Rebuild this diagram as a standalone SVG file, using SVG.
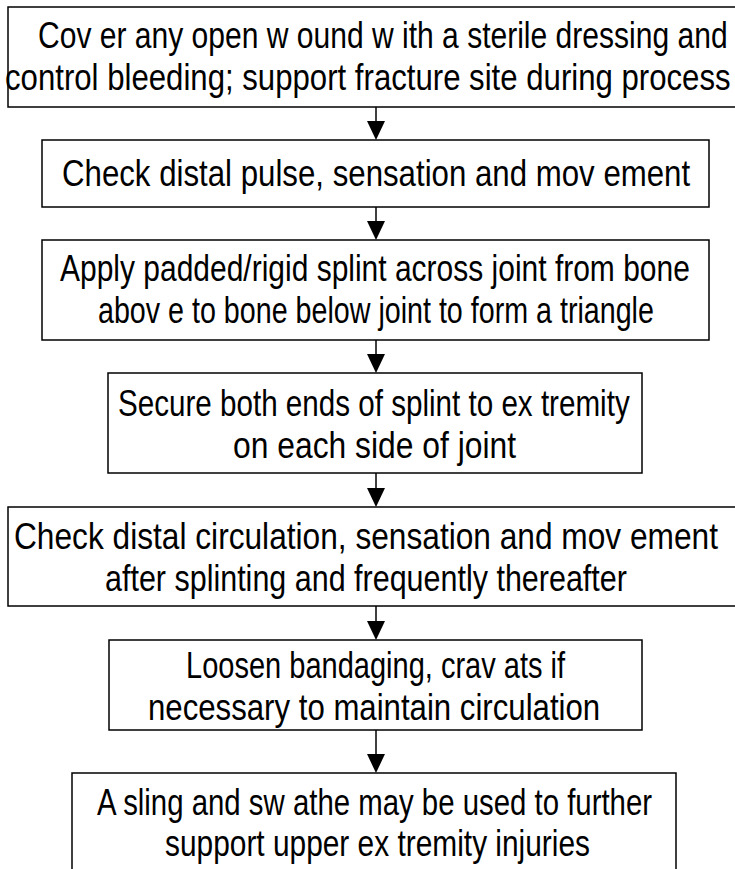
<svg xmlns="http://www.w3.org/2000/svg" width="735" height="869" viewBox="0 0 735 869">
  <defs>
    <style>
      .box { fill: #ffffff; stroke: #000000; stroke-width: 1.5; }
      .lbl { font-family: "Liberation Sans", Arial, sans-serif; font-size: 37px; fill: #000000; }
      .wire { stroke: #000000; stroke-width: 1.5; fill: none; }
      .head { fill: #000000; }
    </style>
  </defs>
  <rect width="735" height="869" fill="#ffffff"/>

  <!-- downward flow arrows between consecutive steps -->
  <g id="connectors">
    <line class="wire" x1="376" y1="107" x2="376" y2="122"/>
    <polygon class="head" points="367,121 385,121 376,140"/>
    <line class="wire" x1="376" y1="207" x2="376" y2="222"/>
    <polygon class="head" points="367,221 385,221 376,240"/>
    <line class="wire" x1="376" y1="340" x2="376" y2="355"/>
    <polygon class="head" points="367,354 385,354 376,373"/>
    <line class="wire" x1="376" y1="473" x2="376" y2="489"/>
    <polygon class="head" points="367,488 385,488 376,507"/>
    <line class="wire" x1="376" y1="606" x2="376" y2="622"/>
    <polygon class="head" points="367,621 385,621 376,640"/>
    <line class="wire" x1="376" y1="730" x2="376" y2="755"/>
    <polygon class="head" points="367,754 385,754 376,773"/>
  </g>

  <!-- labels use a condensed face: horizontal scale, then fitted with textLength -->
  <g id="step1">
    <rect class="box" x="8" y="7" width="740" height="100"/>
    <text class="lbl" transform="translate(38 48) scale(0.8 1)" textLength="862" lengthAdjust="spacingAndGlyphs">Cov er any  open w ound w ith a sterile dressing and</text>
    <text class="lbl" transform="translate(5 90) scale(0.8 1)" textLength="907" lengthAdjust="spacingAndGlyphs">control bleeding;  support fracture site during process</text>
  </g>

  <g id="step2">
    <rect class="box" x="42" y="140" width="667" height="67"/>
    <text class="lbl" transform="translate(62 186) scale(0.85 1)" textLength="739" lengthAdjust="spacingAndGlyphs">Check distal pulse, sensation and mov ement</text>
  </g>

  <g id="step3">
    <rect class="box" x="42" y="240" width="667" height="100"/>
    <text class="lbl" transform="translate(60 281) scale(0.85 1)" textLength="741" lengthAdjust="spacingAndGlyphs">Apply  padded/rigid splint across joint from bone</text>
    <text class="lbl" transform="translate(98 323) scale(0.85 1)" textLength="654" lengthAdjust="spacingAndGlyphs">abov e to bone below  joint to form a triangle</text>
  </g>

  <g id="step4">
    <rect class="box" x="108" y="373" width="534" height="100"/>
    <text class="lbl" transform="translate(118 416) scale(0.85 1)" textLength="602" lengthAdjust="spacingAndGlyphs">Secure both ends of splint to ex tremity</text>
    <text class="lbl" transform="translate(233 458) scale(0.85 1)" textLength="333" lengthAdjust="spacingAndGlyphs">on each side of joint</text>
  </g>

  <g id="step5">
    <rect class="box" x="8" y="507" width="740" height="99"/>
    <text class="lbl" transform="translate(14 549) scale(0.8 1)" textLength="880" lengthAdjust="spacingAndGlyphs">Check distal circulation, sensation and mov ement</text>
    <text class="lbl" transform="translate(105 591) scale(0.85 1)" textLength="614" lengthAdjust="spacingAndGlyphs">after splinting and frequently  thereafter</text>
  </g>

  <g id="step6">
    <rect class="box" x="109" y="640" width="533" height="90"/>
    <text class="lbl" transform="translate(186 678) scale(0.85 1)" textLength="446" lengthAdjust="spacingAndGlyphs">Loosen bandaging, crav ats if</text>
    <text class="lbl" transform="translate(148 720) scale(0.85 1)" textLength="532" lengthAdjust="spacingAndGlyphs">necessary  to maintain circulation</text>
  </g>

  <g id="step7">
    <rect class="box" x="72" y="773" width="604" height="110"/>
    <text class="lbl" transform="translate(97 815) scale(0.85 1)" textLength="653" lengthAdjust="spacingAndGlyphs">A sling and sw athe may  be used to further</text>
    <text class="lbl" transform="translate(165 856) scale(0.85 1)" textLength="500" lengthAdjust="spacingAndGlyphs">support upper ex tremity  injuries</text>
  </g>
</svg>
